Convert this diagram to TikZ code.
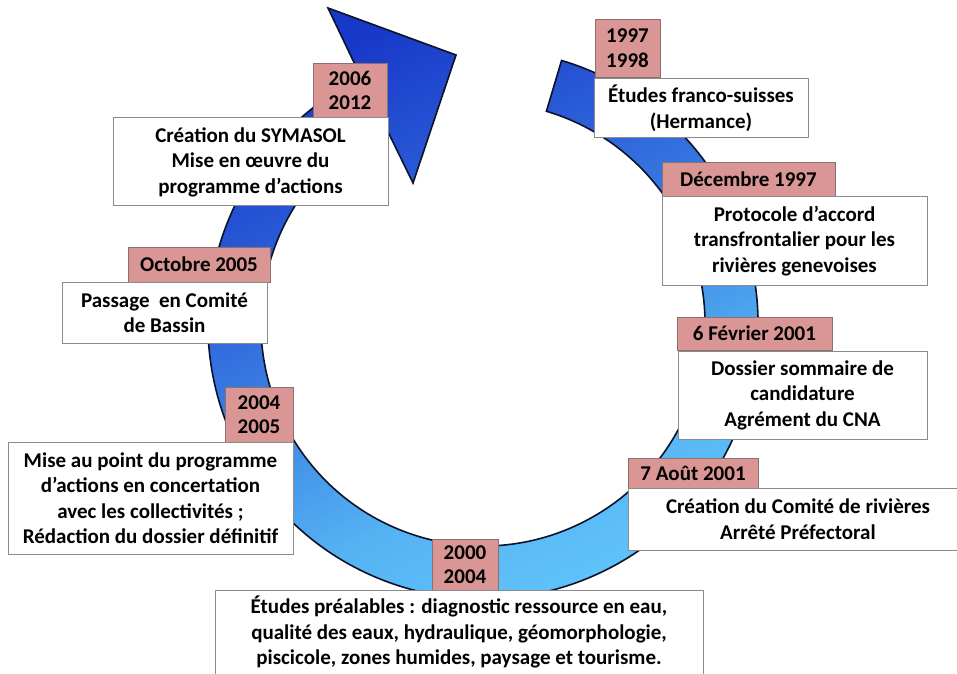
\documentclass[tikz,border=0pt]{standalone}
\usepackage{fontspec}
\setmainfont{Carlito}
\usetikzlibrary{calc}
\definecolor{datefill}{HTML}{D99694}
\definecolor{dateline}{HTML}{8A7070}
\definecolor{boxline}{HTML}{8C8C8C}
\definecolor{ringdark}{HTML}{1838C8}
\definecolor{ringdarkmid}{HTML}{2A5CD8}
\definecolor{ringmid}{HTML}{3C84E4}
\definecolor{ringlightmid}{HTML}{55B2F2}
\definecolor{ringlight}{HTML}{62C6FC}
\definecolor{ringline}{HTML}{0C1228}
\pgfdeclareverticalshading{ringshade}{100bp}{color(0bp)=(ringlight); color(25bp)=(ringlight);
  color(38bp)=(ringlightmid); color(50bp)=(ringmid); color(62bp)=(ringdarkmid);
  color(75bp)=(ringdark); color(100bp)=(ringdark)}
\newcommand\ringpath{($(C)+(73.4:275)$) arc[start angle=73.4,end angle=-243.7,radius=275]
  -- (328,665) -- (456,618) -- (413,490)
  -- ($(C)+(116.3:222)$) arc[start angle=-243.7,end angle=73.4,radius=222] -- cycle}
\begin{document}
\begin{tikzpicture}[x=1pt,y=1pt,
  datebox/.style={draw=dateline, fill=datefill, line width=0.9pt, anchor=north west,
    inner sep=0pt, outer sep=0pt, align=center,
    font=\fontsize{21}{24.5}\selectfont\bfseries},
  textbox/.style={draw=boxline, fill=white, line width=1pt, anchor=north west,
    inner sep=0pt, outer sep=0pt, align=center,
    font=\fontsize{21}{25.5}\selectfont\bfseries},
  ringfill/.style={shading=ringshade, shading angle=25},
  ringedge/.style={draw=ringline, line width=1.6pt, line join=miter}]
\useasboundingbox (0,0) rectangle (957,673);
\fill[white] (0,0) rectangle (957,673);
\coordinate (C) at (483,349);
% circular arrow
\shade[ringfill] \ringpath;
\path[ringedge] \ringpath;
% 1997-1998
\node[datebox, minimum width=65pt, minimum height=58pt] (d1) at (595,673-19) {1997\\1998};
\node[textbox, minimum width=214pt, minimum height=59pt] (t1) at (594,673-79)
  {Études franco-suisses\\(Hermance)};
% Decembre 1997
\node[datebox, minimum width=173pt, minimum height=34pt] (d2) at (662,673-162) {Décembre 1997};
\node[textbox, minimum width=265pt, minimum height=88pt] (t2) at (662,673-197)
  {Protocole d’accord\\transfrontalier pour les\\rivières genevoises};
% 6 Fevrier 2001
\node[datebox, minimum width=155pt, minimum height=33pt] (d3) at (677,673-317) {6 Février 2001};
\node[textbox, minimum width=249pt, minimum height=88pt] (t3) at (678,673-351)
  {Dossier sommaire de\\candidature\\Agrément du CNA};
% 7 Aout 2001
\node[datebox, minimum width=130pt, minimum height=30pt] (d4) at (628,673-458) {7 Août 2001};
\node[textbox, minimum width=340pt, minimum height=62pt] (t4) at (628,673-488)
  {Création du Comité de rivières\\Arrêté Préfectoral};
% 2000-2004
\node[datebox, minimum width=66pt, minimum height=51pt] (d5) at (432,673-539) {2000\\2004};
\node[textbox, minimum width=488pt, minimum height=84pt] (t5) at (215,673-590)
  {Études préalables : diagnostic ressource en eau,\\qualité des eaux, hydraulique, géomorphologie,\\piscicole, zones humides, paysage et tourisme.};
% 2004-2005
\node[datebox, minimum width=68pt, minimum height=55pt] (d6) at (225,673-387) {2004\\2005};
\node[textbox, minimum width=285pt, minimum height=112pt] (t6) at (8,673-442)
  {Mise au point du programme\\d’actions en concertation\\avec les collectivités ;\\Rédaction du dossier définitif};
% Octobre 2005
\node[datebox, minimum width=142pt, minimum height=35pt] (d7) at (128,673-247) {Octobre 2005};
\node[textbox, minimum width=205pt, minimum height=61pt] (t7) at (62,673-282)
  {Passage\ \ en Comité\\de Bassin};
% 2006-2012
\node[datebox, minimum width=74pt, minimum height=55pt] (d8) at (313,673-63) {2006\\2012};
\node[textbox, minimum width=275pt, minimum height=88pt] (t8) at (113,673-118)
  {Création du SYMASOL\\Mise en œuvre du\\programme d’actions};
\end{tikzpicture}
\end{document}
